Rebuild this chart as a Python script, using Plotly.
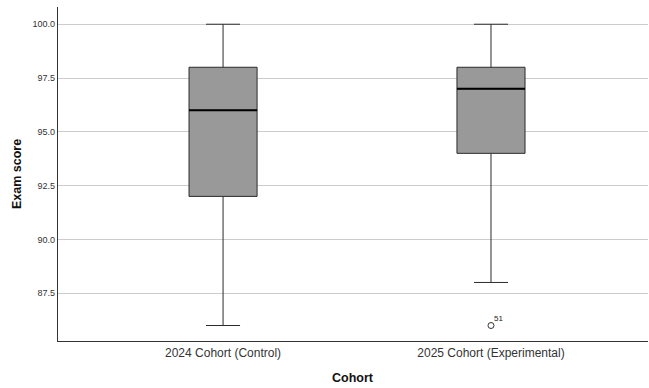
import plotly.graph_objects as go

cohorts = ["2024 Cohort (Control)", "2025 Cohort (Experimental)"]
lower_whisker = [86.0, 88.0]
q1 = [92.0, 94.0]
median = [96.0, 97.0]
q3 = [98.0, 98.0]
upper_whisker = [100.0, 100.0]
outlier_cohort = ["2025 Cohort (Experimental)"]
outlier_value = [86.0]
outlier_label = ["51"]
y_ticks = [87.5, 90.0, 92.5, 95.0, 97.5, 100.0]

FONT = "Liberation Sans, Arial"

fig = go.Figure()
fig.add_trace(go.Box(
    x=cohorts, q1=q1, median=median, q3=q3,
    lowerfence=lower_whisker, upperfence=upper_whisker,
    fillcolor="#999999", line=dict(color="#2b2b2b", width=1),
    width=0.254, whiskerwidth=0.5, boxpoints=False, hoverinfo="skip",
))
# thicker median lines
fig.add_trace(go.Box(
    x=cohorts, q1=median, median=median, q3=median,
    lowerfence=median, upperfence=median,
    fillcolor="rgba(0,0,0,0)", line=dict(color="#000000", width=2),
    width=0.254, whiskerwidth=0, boxpoints=False, hoverinfo="skip",
))
fig.add_trace(go.Scatter(
    x=outlier_cohort, y=outlier_value, mode="markers",
    marker=dict(symbol="circle-open", size=6, color="#333333", line=dict(width=1)),
    hoverinfo="skip",
))
for c, v, t in zip(outlier_cohort, outlier_value, outlier_label):
    fig.add_annotation(x=c, y=v, text=t, showarrow=False, xshift=8, yshift=7,
                       font=dict(size=8, color="#222222", family=FONT))

# axis titles
fig.add_annotation(xref="paper", yref="paper", x=0, y=0.5, xshift=-41,
                   xanchor="center", yanchor="middle", textangle=-90, showarrow=False,
                   text="<b>Exam score</b>", font=dict(size=12.5, color="#111111", family=FONT))
fig.add_annotation(xref="paper", yref="paper", x=0.5, y=0, yshift=-37,
                   xanchor="center", yanchor="middle", showarrow=False,
                   text="<b>Cohort</b>", font=dict(size=12.5, color="#111111", family=FONT))

fig.update_layout(
    width=649, height=388,
    margin=dict(l=58, r=1, t=7, b=47, autoexpand=False),
    paper_bgcolor="white", plot_bgcolor="white",
    showlegend=False,
    boxmode="overlay",
    font=dict(family=FONT, color="#222222"),
)
fig.update_xaxes(
    type="category", range=[-0.616, 1.586], automargin=False,
    showline=True, linecolor="#333333", linewidth=1.3,
    showgrid=False, ticks="", tickfont=dict(size=12, color="#333333"),
)
fig.update_yaxes(
    range=[85.28, 100.8], tickvals=y_ticks, ticktext=[f"{v:.1f}" for v in y_ticks],
    automargin=False,
    showline=True, linecolor="#333333", linewidth=1.3,
    showgrid=True, gridcolor="#cccccc", gridwidth=1, zeroline=False,
    ticks="", tickfont=dict(size=9, color="#333333"),
)

post = ("document.body.style.margin='0';document.body.style.overflow='hidden';"
        "var gd=document.getElementById('{plot_id}');"
        "Plotly.relayout(gd,{width:649,height:388});")
fig.write_html("out.html", post_script=post, config={"displayModeBar": False})
